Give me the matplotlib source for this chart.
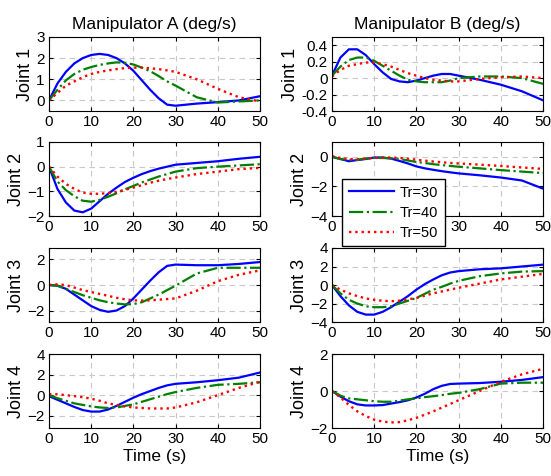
import matplotlib
matplotlib.use("Agg")
import matplotlib.pyplot as plt

plt.rcParams['font.family'] = ['Liberation Sans', 'DejaVu Sans']

t = [0, 2, 4, 6, 8, 10, 12, 14, 16, 18, 20, 22, 24, 26, 28, 30, 35, 40, 45, 50]
labels = ["Tr=30", "Tr=40", "Tr=50"]

# manipulator A, joints 1..4, series Tr=30, Tr=40, Tr=50
a1_30 = [0, 0.8, 1.35, 1.75, 2.0, 2.15, 2.2, 2.15, 2.0, 1.75, 1.4, 0.95, 0.5, 0.1, -0.2, -0.25, -0.15, -0.08, 0.0, 0.2]
a1_40 = [0, 0.5, 0.95, 1.25, 1.45, 1.58, 1.68, 1.75, 1.8, 1.78, 1.7, 1.55, 1.38, 1.15, 0.9, 0.7, 0.15, -0.1, -0.05, 0.0]
a1_50 = [0, 0.35, 0.7, 0.9, 1.1, 1.25, 1.35, 1.42, 1.48, 1.53, 1.55, 1.55, 1.52, 1.48, 1.42, 1.35, 1.0, 0.55, 0.15, -0.05]

a2_30 = [0, -0.9, -1.45, -1.78, -1.85, -1.7, -1.4, -1.1, -0.85, -0.62, -0.45, -0.3, -0.18, -0.08, 0.0, 0.08, 0.15, 0.22, 0.32, 0.4]
a2_40 = [0, -0.6, -0.95, -1.2, -1.38, -1.42, -1.35, -1.22, -1.08, -0.92, -0.78, -0.64, -0.52, -0.4, -0.3, -0.2, -0.06, 0.0, 0.05, 0.1]
a2_50 = [0, -0.4, -0.7, -0.9, -1.05, -1.1, -1.1, -1.07, -1.02, -0.94, -0.85, -0.75, -0.65, -0.57, -0.5, -0.44, -0.3, -0.2, -0.1, -0.05]

a3_30 = [0, -0.05, -0.3, -0.75, -1.2, -1.65, -1.95, -2.1, -2.0, -1.65, -1.05, -0.35, 0.35, 1.0, 1.5, 1.6, 1.55, 1.55, 1.65, 1.8]
a3_40 = [0, -0.05, -0.3, -0.55, -0.8, -1.0, -1.2, -1.35, -1.45, -1.52, -1.5, -1.35, -1.05, -0.75, -0.4, -0.05, 0.9, 1.35, 1.35, 1.35]
a3_50 = [0, 0.05, 0.0, -0.2, -0.4, -0.55, -0.7, -0.85, -1.0, -1.12, -1.2, -1.22, -1.2, -1.15, -1.1, -1.05, -0.45, 0.3, 0.8, 1.15]

a4_30 = [-0.1, -0.45, -0.8, -1.15, -1.45, -1.6, -1.6, -1.4, -1.05, -0.65, -0.25, 0.1, 0.4, 0.7, 0.95, 1.1, 1.25, 1.45, 1.7, 2.2]
a4_40 = [0, -0.3, -0.55, -0.8, -0.95, -1.1, -1.2, -1.25, -1.2, -1.05, -0.9, -0.65, -0.4, -0.15, 0.1, 0.3, 0.7, 1.0, 1.1, 1.25]
a4_50 = [0.1, 0.08, 0.0, -0.1, -0.2, -0.35, -0.55, -0.8, -0.95, -1.1, -1.2, -1.25, -1.3, -1.3, -1.3, -1.2, -0.7, 0.0, 0.7, 1.3]

# manipulator B
b1_30 = [0.03, 0.25, 0.35, 0.35, 0.28, 0.17, 0.07, -0.01, -0.04, -0.05, -0.03, 0.0, 0.03, 0.05, 0.05, 0.03, -0.02, -0.08, -0.16, -0.27]
b1_40 = [0.03, 0.14, 0.22, 0.25, 0.25, 0.21, 0.15, 0.09, 0.03, -0.02, -0.04, -0.05, -0.05, -0.05, -0.03, 0.0, 0.02, 0.02, 0.0, -0.07]
b1_50 = [0.02, 0.1, 0.15, 0.17, 0.19, 0.19, 0.17, 0.14, 0.1, 0.06, 0.03, 0.0, -0.02, -0.03, -0.04, -0.04, -0.01, 0.01, 0.02, 0.0]

b2_30 = [0, -0.15, -0.3, -0.22, -0.15, -0.05, -0.05, -0.12, -0.28, -0.45, -0.65, -0.78, -0.88, -0.97, -1.05, -1.12, -1.25, -1.4, -1.6, -2.15]
b2_40 = [0, -0.15, -0.22, -0.2, -0.12, -0.08, -0.08, -0.1, -0.15, -0.25, -0.35, -0.42, -0.5, -0.56, -0.62, -0.67, -0.78, -0.9, -1.0, -1.1]
b2_50 = [0.05, -0.08, -0.15, -0.18, -0.12, -0.08, -0.05, -0.05, -0.08, -0.13, -0.2, -0.26, -0.32, -0.37, -0.42, -0.45, -0.53, -0.62, -0.72, -0.82]

b3_30 = [0, -1.2, -2.2, -2.9, -3.2, -3.2, -2.9, -2.4, -1.8, -1.2, -0.5, 0.1, 0.6, 1.05, 1.35, 1.5, 1.7, 1.8, 2.0, 2.2]
b3_40 = [0, -0.9, -1.6, -2.0, -2.3, -2.4, -2.4, -2.3, -2.0, -1.7, -1.4, -0.95, -0.5, -0.2, 0.15, 0.45, 0.95, 1.25, 1.45, 1.5]
b3_50 = [0, -0.5, -0.9, -1.2, -1.45, -1.6, -1.7, -1.75, -1.7, -1.55, -1.4, -1.15, -0.9, -0.7, -0.5, -0.3, 0.15, 0.6, 0.9, 1.2]

b4_30 = [0, -0.3, -0.55, -0.72, -0.78, -0.78, -0.76, -0.68, -0.6, -0.5, -0.35, -0.15, 0.1, 0.28, 0.38, 0.4, 0.43, 0.5, 0.6, 0.75]
b4_40 = [0, -0.25, -0.4, -0.45, -0.5, -0.55, -0.58, -0.58, -0.52, -0.45, -0.4, -0.33, -0.28, -0.22, -0.15, -0.1, 0.1, 0.4, 0.45, 0.45]
b4_50 = [0, -0.35, -0.75, -1.1, -1.35, -1.55, -1.65, -1.7, -1.68, -1.58, -1.45, -1.28, -1.1, -0.9, -0.7, -0.5, 0.0, 0.5, 0.9, 1.2]

data_a = [[a1_30, a1_40, a1_50], [a2_30, a2_40, a2_50], [a3_30, a3_40, a3_50], [a4_30, a4_40, a4_50]]
data_b = [[b1_30, b1_40, b1_50], [b2_30, b2_40, b2_50], [b3_30, b3_40, b3_50], [b4_30, b4_40, b4_50]]

ylims_a = [(-0.5, 3), (-2, 1), (-2.9, 2.9), (-3.2, 4)]
yticks_a = [[0, 1, 2, 3], [-2, -1, 0, 1], [-2, 0, 2], [-2, 0, 2, 4]]
ylims_b = [(-0.4, 0.5), (-4, 1), (-4, 4), (-2, 2)]
yticks_b = [[-0.4, -0.2, 0, 0.2, 0.4], [-4, -2, 0], [-4, -2, 0, 2, 4], [-2, 0, 2]]
yticklabels_b0 = ["-0.4", "-0.2", "0", "0.2", "0.4"]

styles = [dict(color="#0000ff", ls="-", lw=1.6),
          dict(color="#008000", ls="-.", lw=1.6),
          dict(color="#ff0000", ls=":", lw=1.7)]

fig = plt.figure(figsize=(5.51, 4.76), dpi=100)

bottoms = [0.7668, 0.5462, 0.3235, 0.1008]
h = 0.1555
w = 0.383
lefts = [0.0889, 0.6025]

lines = None
for col in range(2):
    data = data_a if col == 0 else data_b
    ylims = ylims_a if col == 0 else ylims_b
    yticks = yticks_a if col == 0 else yticks_b
    for row in range(4):
        ax = fig.add_axes([lefts[col], bottoms[row], w, h])
        ls = []
        for k in range(3):
            l, = ax.plot(t, data[row][k], **styles[k])
            ls.append(l)
        if lines is None:
            lines = ls
        ax.set_xlim(0, 50)
        ax.set_ylim(*ylims[row])
        ax.set_xticks([0, 10, 20, 30, 40, 50])
        ax.set_yticks(yticks[row])
        if col == 1 and row == 0:
            ax.set_yticklabels(yticklabels_b0)
        ax.grid(True, ls=(0, (5, 4)), color="#c8c8c8", lw=0.8)
        ax.tick_params(direction="in", length=3, labelsize=11, pad=3, top=True, right=True)
        for s in ax.spines.values():
            s.set_linewidth(0.8)
        ax.set_ylabel("Joint %d" % (row + 1), fontsize=13, labelpad=2)
        if row == 0:
            ax.set_title("Manipulator A (deg/s)" if col == 0 else "Manipulator B (deg/s)", fontsize=12.5, pad=6)
        if row == 3:
            ax.set_xlabel("Time (s)", fontsize=12.5, labelpad=2)

fig.legend(lines, labels, loc="upper left", bbox_to_anchor=(0.6207, 0.624), fontsize=10.5,
           handlelength=3.1, handletextpad=0.4, frameon=True, fancybox=False, edgecolor="black",
           framealpha=1, borderpad=0.45, labelspacing=0.42, borderaxespad=0)

fig.savefig("out.png", dpi=100)
